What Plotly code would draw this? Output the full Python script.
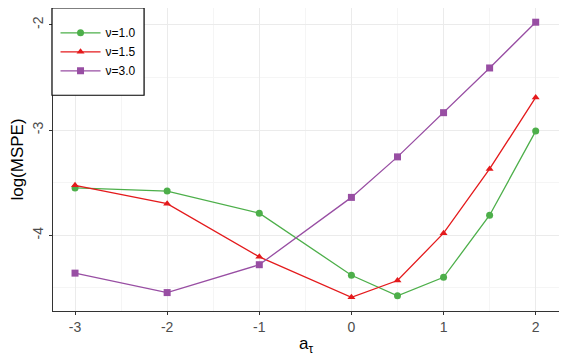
import plotly.graph_objs as go

a_tau = [-3, -2, -1, 0, 0.5, 1, 1.5, 2]
nu_labels = ["ν=1.0", "ν=1.5", "ν=3.0"]
mspe_nu10 = [-3.55, -3.58, -3.79, -4.38, -4.575, -4.40, -3.81, -3.01]
mspe_nu15 = [-3.525, -3.70, -4.205, -4.59, -4.43, -3.98, -3.37, -2.69]
mspe_nu30 = [-4.36, -4.545, -4.28, -3.64, -3.255, -2.835, -2.41, -1.975]

x_ticks = [-3, -2, -1, 0, 1, 2]
y_ticks = [-4, -3, -2]

colors = ["#4DAF4A", "#E41A1C", "#984EA3"]
symbols = ["circle", "triangle-up", "square"]
series = [mspe_nu10, mspe_nu15, mspe_nu30]

fig = go.Figure()
for name, y, c, s in zip(nu_labels, series, colors, symbols):
    fig.add_trace(
        go.Scatter(
            x=a_tau,
            y=y,
            name=name,
            mode="lines+markers",
            line=dict(color=c, width=1.3),
            marker=dict(color=c, symbol=s, size=7),
        )
    )

axis_common = dict(
    showgrid=True,
    gridcolor="#EBEBEB",
    gridwidth=1.1,
    zeroline=False,
    showline=True,
    mirror=True,
    linecolor="#333333",
    linewidth=1,
    ticks="outside",
    ticklen=3,
    tickcolor="#333333",
    automargin=False,
    tickfont=dict(family="Liberation Sans, Arial", size=14, color="#4D4D4D"),
)

# legend box drawn as a shape (ggplot style, with padding)
fig.add_shape(
    type="rect", xref="paper", yref="paper",
    x0=-0.002, x1=0.180, y0=0.712, y1=1.0,
    line=dict(color="black", width=1.2), fillcolor="white", layer="above",
)

# page body has an 8px margin, so the figure is shrunk and shifted to fit
fig.update_layout(
    width=559,
    height=356,
    margin=dict(l=45, r=8, t=0, b=53),
    plot_bgcolor="white",
    paper_bgcolor="white",
    font=dict(family="Liberation Sans, Arial", color="black"),
    xaxis=dict(
        axis_common,
        range=[-3.239, 2.253],
        tickvals=x_ticks,
        ticktext=[str(v) for v in x_ticks],
        minor=dict(showgrid=True, gridcolor="#F5F5F5", tickvals=[-2.5, -1.5, -0.5, 0.5, 1.5]),
        title=dict(text="a<sub>τ</sub>", font=dict(size=17), standoff=3),
    ),
    yaxis=dict(
        axis_common,
        range=[-4.72, -1.84],
        tickvals=y_ticks,
        ticktext=[str(v) for v in y_ticks],
        tickangle=-90,
        minor=dict(showgrid=True, gridcolor="#F5F5F5", tickvals=[-4.5, -3.5, -2.5]),
        title=dict(text="log(MSPE)", font=dict(size=17), standoff=8),
    ),
    legend=dict(
        x=0.005,
        y=0.966,
        xanchor="left",
        yanchor="top",
        bgcolor="rgba(0,0,0,0)",
        borderwidth=0,
        font=dict(size=12),
        itemwidth=40,
    ),
)

fig.write_html("out.html")
